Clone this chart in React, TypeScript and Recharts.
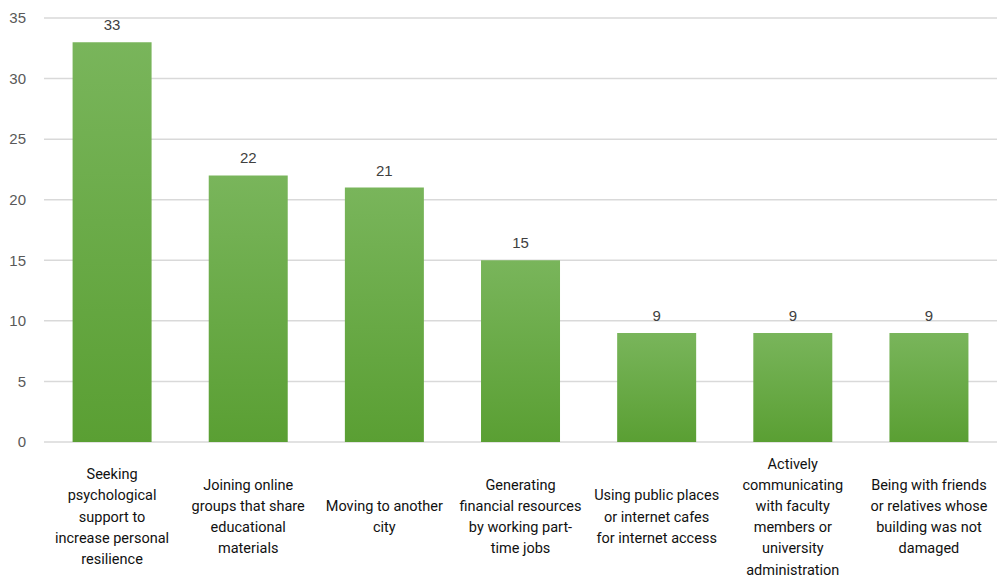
import React from "react";
import { BarChart, Bar, XAxis, YAxis, CartesianGrid, LabelList } from "recharts";

if (typeof document !== "undefined") {
  document.body.style.margin = "0";
}

const categories: string[][] = [
  ["Seeking", "psychological", "support to", "increase personal", "resilience"],
  ["Joining online", "groups that share", "educational", "materials"],
  ["Moving to another", "city"],
  ["Generating", "financial resources", "by working part-", "time jobs"],
  ["Using public places", "or internet cafes", "for internet access"],
  ["Actively", "communicating", "with faculty", "members or", "university", "administration"],
  ["Being with friends", "or relatives whose", "building was not", "damaged"],
];
const values: number[] = [33, 22, 21, 15, 9, 9, 9];
const yTicks: number[] = [0, 5, 10, 15, 20, 25, 30, 35];

const data = categories.map((lines, i) => ({ name: lines.join(" "), idx: i, value: values[i] }));

const LINE_H = 21.2;
const CENTER_Y = 517;

const CategoryTick = (props: any) => {
  const { x, payload } = props;
  const lines = categories[payload.index] || categories[data.findIndex((d) => d.name === payload.value)] || [];
  const startY = CENTER_Y - ((lines.length - 1) * LINE_H) / 2;
  return (
    <g>
      {lines.map((l, i) => (
        <text
          key={i}
          x={x}
          y={startY + i * LINE_H}
          textAnchor="middle"
          dominantBaseline="central"
          fontFamily="Roboto, sans-serif"
          fontSize={14.5}
          fill="#111"
        >
          {l}
        </text>
      ))}
    </g>
  );
};

export default function App() {
  return (
    <div style={{ width: 1003, height: 580, background: "#fff" }}>
      <BarChart
        width={1003}
        height={580}
        data={data}
        margin={{ top: 18, right: 6, bottom: 0, left: 0 }}
        barCategoryGap="21%"
      >
        <defs>
          <linearGradient id="barGrad" x1="0" y1="0" x2="0" y2="1">
            <stop offset="0%" stopColor="#79b55b" />
            <stop offset="100%" stopColor="#5a9f33" />
          </linearGradient>
        </defs>
        <CartesianGrid vertical={false} stroke="#d9d9d9" strokeWidth={1.5} />
        <XAxis
          dataKey="name"
          axisLine={false}
          tickLine={false}
          height={138}
          interval={0}
          tick={<CategoryTick />}
        />
        <YAxis
          domain={[0, 35]}
          ticks={yTicks}
          width={44}
          axisLine={false}
          tickLine={false}
          tick={{ fill: "#595959", fontSize: 15, fontFamily: "Arial, 'Liberation Sans', sans-serif" }}
          tickMargin={12}
        />
        <Bar dataKey="value" fill="url(#barGrad)" isAnimationActive={false}>
          <LabelList
            dataKey="value"
            position="top"
            offset={12}
            fill="#404040"
            fontSize={15}
            fontFamily="Arial, 'Liberation Sans', sans-serif"
          />
        </Bar>
      </BarChart>
    </div>
  );
}
